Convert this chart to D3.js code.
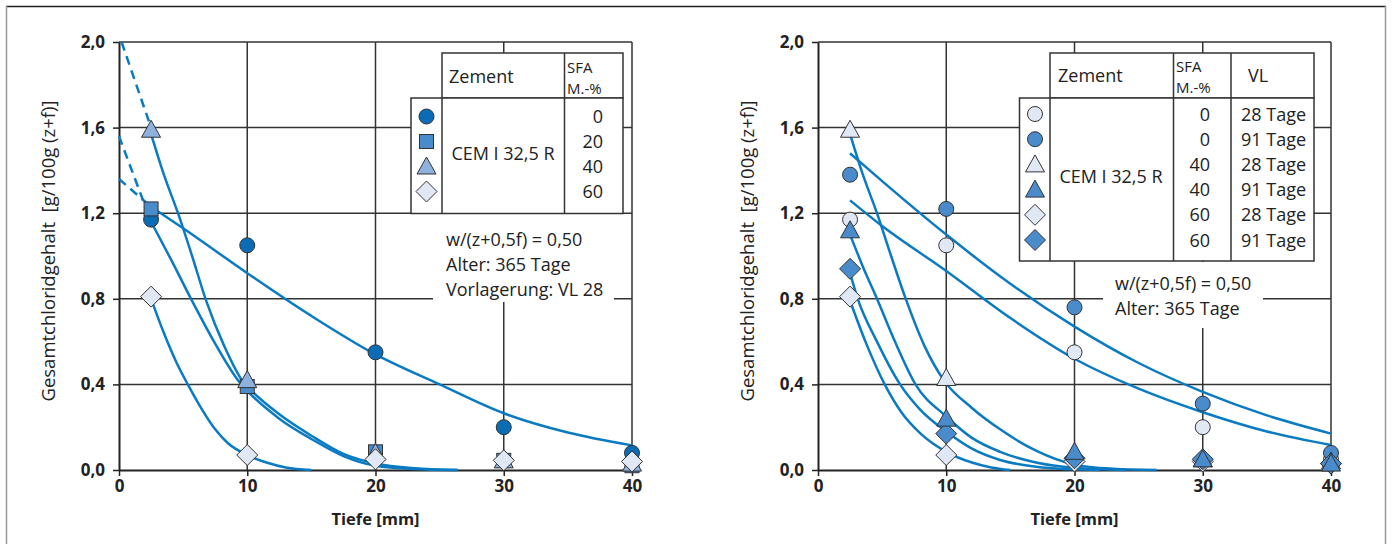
<!DOCTYPE html>
<html><head><meta charset="utf-8">
<script src="https://cdn.jsdelivr.net/npm/d3@7"></script>
<style>body{margin:0;background:#fff} text{font-family:"Open Sans",sans-serif;fill:#222;white-space:pre}</style></head>
<body><svg id="c" width="1392" height="544"></svg>
<script>
// ---------- data ----------
const depths = [2.5, 10, 20, 30, 40];
const xTicks = [0, 10, 20, 30, 40];
const yTicks = [0, 0.4, 0.8, 1.2, 1.6, 2.0];
const xTitle = "Tiefe [mm]";
const yTitle = "Gesamtchloridgehalt  [g/100g (z+f)]";

// left chart: SFA 0/20/40/60, VL 28
const leftSFA = ["0", "20", "40", "60"];
const leftCircle   = [1.17, 1.05, 0.55, 0.20, 0.08];
const leftSquare   = [1.22, 0.39, 0.085, 0.045, 0.02];
const leftTriangle = [1.59, 0.42, 0.08, 0.045, 0.03];
const leftDiamond  = [0.81, 0.07, 0.05, 0.045, 0.04];
// fitted curves
const leftCurve0 = [[2.5,1.23],[5,1.13],[10,0.92],[15,0.72],[20,0.54],[25,0.40],[30,0.265],[35,0.175],[40,0.115]];
const leftCurve1 = [[2.5,1.16],[4,0.99],[5.7,0.79],[7.5,0.59],[9.4,0.41],[10,0.37],[12.5,0.24],[15,0.145],[17.5,0.065],[20,0.02],[23,0.005],[26.4,0]];
const leftCurve2 = [[2.5,1.57],[3.5,1.38],[4.6,1.2],[5.7,1.0],[6.8,0.79],[8.2,0.58],[9.7,0.41],[10,0.39],[12.5,0.26],[15,0.16],[17.5,0.075],[20,0.03],[23,0.008],[26.4,0]];
const leftCurve3 = [[2.5,0.80],[3.5,0.64],[4.5,0.50],[5.5,0.385],[6.5,0.28],[7.5,0.19],[8.5,0.125],[10,0.07],[11.5,0.035],[13,0.012],[15,0]];
const leftDash0 = [[0,1.36],[2.5,1.23]];
const leftDash1 = [[0,1.56],[2.5,1.16]];
const leftDash2 = [[0.2,2.0],[2.5,1.60]];
const leftNotes = ["w/(z+0,5f) = 0,50", "Alter: 365 Tage", "Vorlagerung: VL 28"];

// right chart: SFA/VL combinations
const rightSFA = ["0", "0", "40", "40", "60", "60"];
const rightVL = ["28 Tage", "91 Tage", "28 Tage", "91 Tage", "28 Tage", "91 Tage"];
const rightOpenCircle     = [1.17, 1.05, 0.55, 0.20, 0.05];
const rightFilledCircle   = [1.38, 1.22, 0.76, 0.31, 0.08];
const rightOpenTriangle   = [1.59, 0.43, 0.07, 0.05, 0.04];
const rightFilledTriangle = [1.12, 0.24, 0.085, 0.05, 0.03];
const rightOpenDiamond    = [0.81, 0.07, 0.04, 0.04, 0.03];
const rightFilledDiamond  = [0.94, 0.17, 0.055, 0.05, 0.03];
const rightCurveFC = [[2.5,1.48],[5,1.35],[10,1.10],[15,0.87],[20,0.67],[25,0.50],[30,0.365],[35,0.255],[40,0.17]];
const rightCurveOC = [[2.5,1.26],[5,1.14],[10,0.93],[15,0.71],[20,0.52],[25,0.38],[30,0.27],[35,0.18],[40,0.117]];
const rightCurveOT = [[2.5,1.57],[3.5,1.38],[4.6,1.2],[5.7,1.0],[6.9,0.79],[8.3,0.58],[9.8,0.42],[12,0.29],[14.2,0.19],[17,0.09],[20,0.025],[23,0.006],[26.4,0]];
const rightCurveFT = [[2.5,1.10],[3.5,0.95],[4.6,0.80],[6,0.60],[7.6,0.40],[10,0.25],[12,0.15],[14.2,0.085],[17,0.035],[20,0.01],[24,0]];
const rightCurveFD = [[2.5,0.92],[3.1,0.80],[4.6,0.60],[6.4,0.40],[8,0.28],[10,0.18],[12,0.10],[14.2,0.047],[17,0.015],[20,0.003],[22,0]];
const rightCurveOD = [[2.5,0.79],[3.7,0.60],[5.2,0.40],[6.5,0.27],[8,0.17],[10,0.085],[12,0.035],[13.5,0.012],[15,0]];
const rightNotes = ["w/(z+0,5f) = 0,50", "Alter: 365 Tage"];

// ---------- styles ----------
const lineColor = "#0a7ac3";
const cDark = "#0b6cb6", cMid = "#4a8bcc", cLight = "#8fb1dd", cPale = "#e1e8f5";
const stroke = "#333";
const FS = 18;

const svg = d3.select("#c");
// outer frame
svg.append("line").attr("x1",6).attr("x2",1386).attr("y1",6.5).attr("y2",6.5).attr("stroke","#222").attr("stroke-width",1.5);
svg.append("line").attr("x1",6.5).attr("x2",6.5).attr("y1",6).attr("y2",544).attr("stroke","#999").attr("stroke-width",1.5);
svg.append("line").attr("x1",1385.5).attr("x2",1385.5).attr("y1",6).attr("y2",544).attr("stroke","#999").attr("stroke-width",1.5);

function symbol(g, type, x, y, fill) {
  let p;
  if (type === "circle") p = g.append("circle").attr("cx", x).attr("cy", y).attr("r", 7.5);
  else if (type === "square") p = g.append("rect").attr("x", x-7).attr("y", y-7).attr("width", 14).attr("height", 14);
  else if (type === "triangle") p = g.append("path").attr("d", `M${x},${y-9.5}L${x+9.5},${y+7.5}L${x-9.5},${y+7.5}Z`);
  else p = g.append("path").attr("d", `M${x},${y-10.5}L${x+10.5},${y}L${x},${y+10.5}L${x-10.5},${y}Z`);
  p.attr("fill", fill).attr("stroke", stroke).attr("stroke-width", 1);
}

function chart(x0) {
  const x = d3.scaleLinear([0, 40], [x0, x0 + 513]);
  const y = d3.scaleLinear([0, 2], [470, 42]);
  const g = svg.append("g");
  // grid
  g.append("g").selectAll("line").data(yTicks.slice(1)).join("line")
    .attr("x1", x(0)).attr("x2", x(40)).attr("y1", d => y(d)).attr("y2", d => y(d))
    .attr("stroke", "#333").attr("stroke-width", 1.5);
  g.append("g").selectAll("line").data(xTicks.slice(1)).join("line")
    .attr("x1", d => x(d)).attr("x2", d => x(d)).attr("y1", y(0)).attr("y2", y(2))
    .attr("stroke", "#333").attr("stroke-width", 1.5);
  // axes
  const fmt = d => d.toFixed(1).replace(".", ",");
  const ya = g.append("g").attr("transform", `translate(${x(0)},0)`)
    .call(d3.axisLeft(y).tickValues(yTicks).tickFormat(fmt).tickSize(6).tickSizeOuter(0).tickPadding(8));
  const xa = g.append("g").attr("transform", `translate(0,${y(0)})`)
    .call(d3.axisBottom(x).tickValues(xTicks).tickFormat(d3.format("d")).tickSize(6).tickSizeOuter(0).tickPadding(4));
  [ya, xa].forEach(a => {
    a.select(".domain").attr("stroke", "#222").attr("stroke-width", 2);
    a.selectAll(".tick line").attr("stroke", "#222").attr("stroke-width", 1.5);
    a.selectAll(".tick text").attr("font-size", 17).attr("font-weight", 700)
      .attr("font-family", '"Open Sans",sans-serif').attr("fill", "#222");
  });
  g.append("text").attr("x", (x(0) + x(40)) / 2).attr("y", 525).attr("text-anchor", "middle")
    .attr("font-size", 16.5).attr("font-weight", 700).text(xTitle);
  g.append("text").attr("transform", `translate(${x0 - 64},251) rotate(-90)`).attr("text-anchor", "middle")
    .attr("font-size", 18.5).text(yTitle);
  return { g, x, y };
}

function curve(c, pts, dashed) {
  c.g.append("path").datum(pts)
    .attr("d", d3.line().x(d => c.x(d[0])).y(d => c.y(d[1])).curve(d3.curveMonotoneX))
    .attr("fill", "none").attr("stroke", lineColor).attr("stroke-width", 2.5)
    .attr("stroke-dasharray", dashed ? "9,6" : null);
}
function points(c, vals, type, fill) {
  const g = c.g.append("g");
  vals.forEach((v, i) => symbol(g, type, c.x(depths[i]), c.y(v), fill));
}
function box(x1, y1, x2, y2) {
  svg.append("rect").attr("x", x1).attr("y", y1).attr("width", x2 - x1).attr("height", y2 - y1)
    .attr("fill", "#fff").attr("stroke", "#333").attr("stroke-width", 1.5);
}
function vline(xv, y1, y2) {
  svg.append("line").attr("x1", xv).attr("x2", xv).attr("y1", y1).attr("y2", y2).attr("stroke", "#333").attr("stroke-width", 1.5);
}
function text(xv, yv, s, anchor, size) {
  svg.append("text").attr("x", xv).attr("y", yv).attr("text-anchor", anchor || "start").attr("font-size", size || FS).text(s);
}

// ---------- left chart ----------
const L = chart(119);
L.g.append("rect").attr("x", 433).attr("y", 214).attr("width", 181).attr("height", 88).attr("fill", "#fff");
curve(L, leftDash0, true); curve(L, leftDash1, true); curve(L, leftDash2, true);
curve(L, leftCurve0); curve(L, leftCurve1); curve(L, leftCurve2); curve(L, leftCurve3);
points(L, leftCircle, "circle", cDark);
points(L, leftSquare, "square", cMid);
points(L, leftTriangle, "triangle", cLight);
points(L, leftDiamond, "diamond", cPale);
box(442, 53, 623, 98); vline(564.5, 53, 98);
box(411, 98, 623, 213.5); vline(442, 98, 213.5); vline(564.5, 98, 213.5);
text(449, 83, "Zement");
text(567, 73, "SFA", "start", 15); text(567, 94, "M.-%", "start", 15);
text(503, 160, "CEM I 32,5 R", "middle");
const lTypes = [["circle", cDark], ["square", cMid], ["triangle", cLight], ["diamond", cPale]];
leftSFA.forEach((s, i) => {
  const cy = 116.5 + i * 25;
  symbol(svg, lTypes[i][0], 426.5, cy, lTypes[i][1]);
  text(603, cy + 6, s, "end");
});
leftNotes.forEach((s, i) => text(446, 246 + i * 25, s));

// ---------- right chart ----------
const R = chart(818);
R.g.append("rect").attr("x", 1103).attr("y", 262).attr("width", 160).attr("height", 66).attr("fill", "#fff");
curve(R, rightCurveFC); curve(R, rightCurveOC); curve(R, rightCurveOT);
curve(R, rightCurveFT); curve(R, rightCurveFD); curve(R, rightCurveOD);
points(R, rightOpenCircle, "circle", cPale);
points(R, rightFilledCircle, "circle", cMid);
points(R, rightOpenTriangle, "triangle", cPale);
points(R, rightOpenDiamond, "diamond", cPale);
points(R, rightFilledDiamond, "diamond", cMid);
points(R, rightFilledTriangle, "triangle", cMid);
box(1050, 53, 1314, 98); vline(1173.5, 53, 98); vline(1231, 53, 98);
box(1019.5, 98, 1314, 261); vline(1050, 98, 261); vline(1173.5, 98, 261); vline(1231, 98, 261);
text(1058, 82, "Zement");
text(1176, 72, "SFA", "start", 15); text(1176, 93, "M.-%", "start", 15);
text(1248, 82, "VL");
text(1111, 183, "CEM I 32,5 R", "middle");
const rTypes = [["circle", cPale], ["circle", cMid], ["triangle", cPale], ["triangle", cMid], ["diamond", cPale], ["diamond", cMid]];
rightSFA.forEach((s, i) => {
  const cy = 114 + i * 25.2;
  symbol(svg, rTypes[i][0], 1035, cy, rTypes[i][1]);
  text(1210, cy + 6.5, s, "end");
  text(1241, cy + 6.5, rightVL[i]);
});
rightNotes.forEach((s, i) => text(1115, 290 + i * 25, s));
</script></body></html>
